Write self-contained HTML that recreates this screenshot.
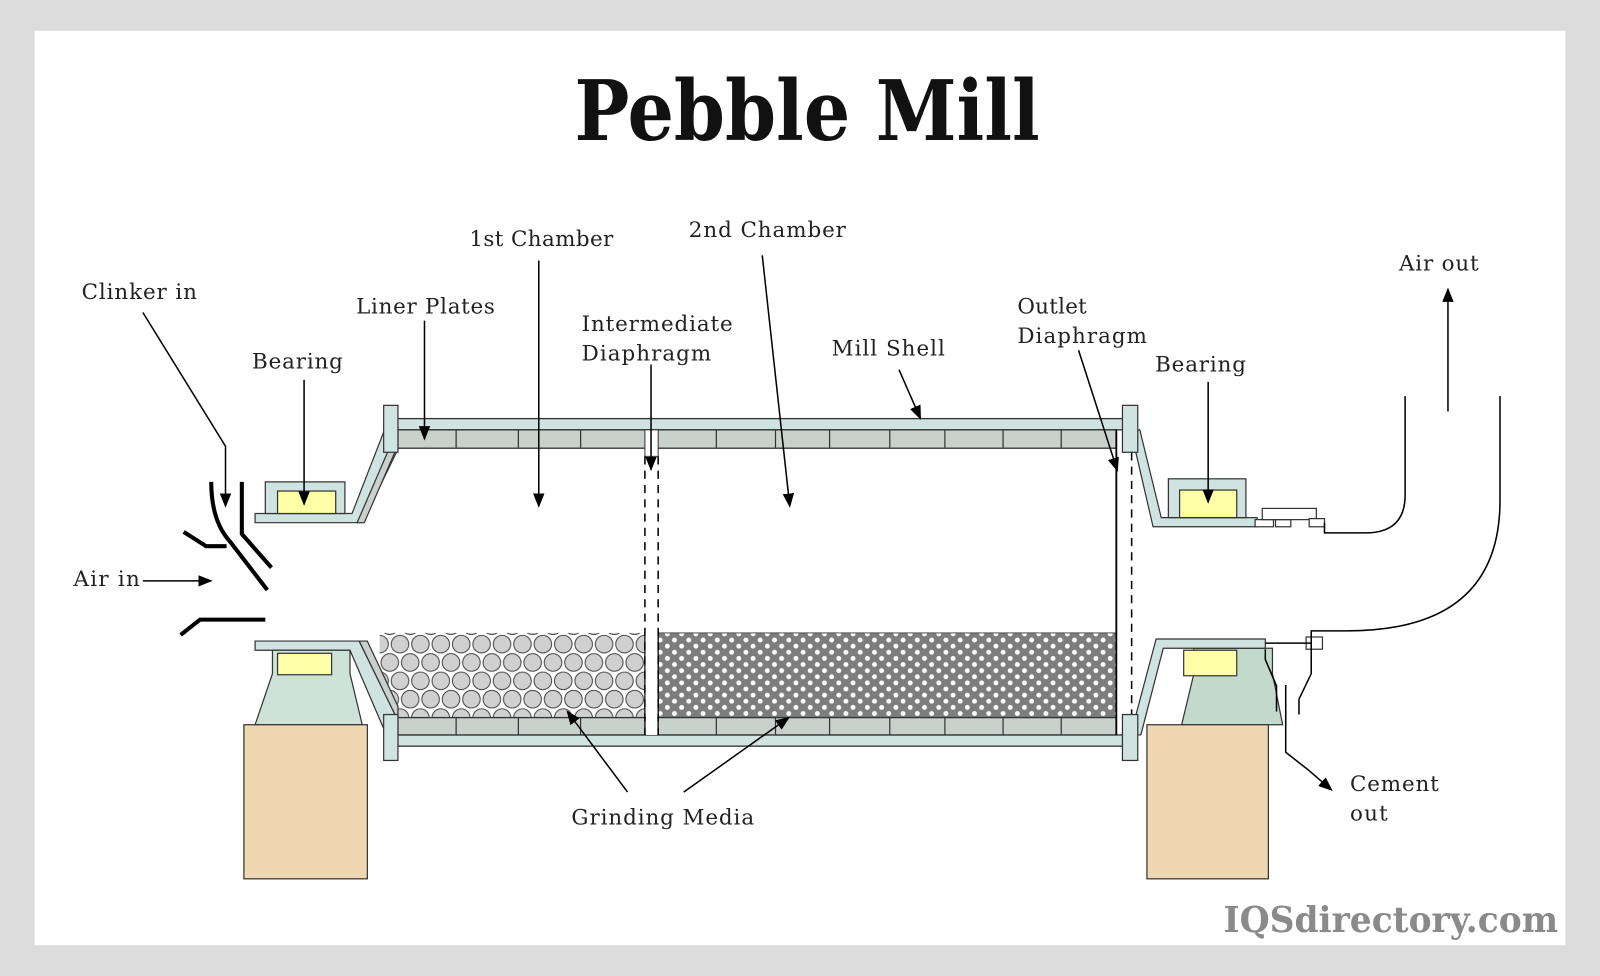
<!DOCTYPE html>
<html><head><meta charset="utf-8"><style>
html,body{margin:0;padding:0;background:#dcdcdc}
svg{display:block}
text{font-family:"DejaVu Serif","Liberation Serif",serif;font-size:21px;fill:#222}
</style></head><body>
<svg width="1600" height="976" viewBox="0 0 1568 956" xmlns="http://www.w3.org/2000/svg">
<defs>
<marker id="ah2" viewBox="0 0 10 10" refX="9" refY="5" markerWidth="14" markerHeight="14" orient="auto" markerUnits="userSpaceOnUse"><path d="M0,1 L10,5 L0,9 Z" fill="#000"/></marker>
<pattern id="dots" width="14" height="12" patternUnits="userSpaceOnUse"><rect width="14" height="12" fill="#7d7d7d"/><circle cx="3" cy="3" r="2.4" fill="#fff"/><circle cx="10" cy="9" r="2.4" fill="#fff"/></pattern>
<pattern id="balls" x="362" y="622" width="40" height="36" patternUnits="userSpaceOnUse"><rect width="40" height="36" fill="#fff"/>
<circle cx="10" cy="9" r="8.6" fill="#d0d0d0" stroke="#444"/><circle cx="30" cy="9" r="8.6" fill="#d0d0d0" stroke="#444"/>
<circle cx="20" cy="27" r="8.6" fill="#d0d0d0" stroke="#444"/><circle cx="0" cy="27" r="8.6" fill="#d0d0d0" stroke="#444"/><circle cx="40" cy="27" r="8.6" fill="#d0d0d0" stroke="#444"/></pattern>
</defs>
<rect x="0" y="0" width="1568" height="956" fill="#dcdcdc"/>
<rect x="34" y="30" width="1500" height="896" fill="#fff"/>
<text x="791" y="137" text-anchor="middle" style="font-size:82px;font-weight:bold;fill:#111" textLength="456" lengthAdjust="spacingAndGlyphs">Pebble Mill</text>

<rect x="372" y="620" width="260" height="83" fill="url(#balls)"/>
<rect x="645" y="620" width="449" height="83" fill="url(#dots)" stroke="#555"/>

<g stroke="#333" stroke-width="1.3">
<rect x="383" y="410" width="720" height="11" fill="#cfe3e0"/>
<rect x="383" y="421" width="711" height="18" fill="#c9d1cd"/>
<rect x="383" y="720" width="720" height="11" fill="#cfe3e0"/>
<rect x="383" y="703" width="711" height="17" fill="#c9d1cd"/>
</g>
<g stroke="#333" stroke-width="1.2">
<line x1="447" y1="421" x2="447" y2="439"/><line x1="508" y1="421" x2="508" y2="439"/><line x1="569" y1="421" x2="569" y2="439"/>
<line x1="702" y1="421" x2="702" y2="439"/><line x1="760" y1="421" x2="760" y2="439"/><line x1="813" y1="421" x2="813" y2="439"/><line x1="872" y1="421" x2="872" y2="439"/><line x1="926" y1="421" x2="926" y2="439"/><line x1="983" y1="421" x2="983" y2="439"/><line x1="1040" y1="421" x2="1040" y2="439"/>
<line x1="447" y1="703" x2="447" y2="720"/><line x1="508" y1="703" x2="508" y2="720"/><line x1="569" y1="703" x2="569" y2="720"/>
<line x1="702" y1="703" x2="702" y2="720"/><line x1="760" y1="703" x2="760" y2="720"/><line x1="813" y1="703" x2="813" y2="720"/><line x1="872" y1="703" x2="872" y2="720"/><line x1="926" y1="703" x2="926" y2="720"/><line x1="983" y1="703" x2="983" y2="720"/><line x1="1040" y1="703" x2="1040" y2="720"/>
</g>
<rect x="632" y="421" width="13" height="26" fill="#fff" stroke="#333"/>
<line x1="632" y1="447" x2="632" y2="720" stroke="#000" stroke-width="1.5" stroke-dasharray="8,6"/>
<line x1="645" y1="447" x2="645" y2="720" stroke="#000" stroke-width="1.5" stroke-dasharray="8,6"/>
<rect x="633" y="620" width="11" height="100" fill="#fff"/>
<line x1="632" y1="620" x2="632" y2="720" stroke="#000" stroke-width="1.2"/>
<line x1="645" y1="620" x2="645" y2="720" stroke="#000" stroke-width="1.2"/>
<line x1="1094" y1="421" x2="1094" y2="720" stroke="#000" stroke-width="1.8"/>
<line x1="1109" y1="443" x2="1109" y2="700" stroke="#000" stroke-width="1.5" stroke-dasharray="8,6"/>

<g stroke="#333" stroke-width="1.2">
<path d="M378,418 L345,503 L250,503 L250,512 L355,512 L390,440 L390,418 Z" fill="#cfe3e0"/>
<path d="M390,436 L357,512 L350,512 L388,424 Z" fill="#c9d1cd"/>
<rect x="260" y="472" width="78" height="31" fill="#cfe3e0"/>
<rect x="272" y="481" width="57" height="22" fill="#ffffa8"/>
<path d="M250,628 L352,628 L390,706 L390,730 L383,730 L343,637 L250,637 Z" fill="#cfe3e0"/>
<path d="M352,628 L360,628 L390,692 L390,706 Z" fill="#c9d1cd"/>
<path d="M267,637 L343,637 L343,660 L355,710 L250,710 L267,660 Z" fill="#cde3da"/>
<rect x="272" y="640" width="53" height="21" fill="#ffffa8"/>
<rect x="239" y="710" width="121" height="151" fill="#efd7b1"/>
<rect x="376" y="397" width="14" height="46" fill="#cfe3e0"/>
<rect x="376" y="700" width="14" height="45" fill="#cfe3e0"/>
</g>
<g stroke="#333" stroke-width="1.2">
<path d="M1108,421 L1117,421 L1138,507 L1232,507 L1232,516 L1130,516 Z" fill="#cfe3e0"/>
<rect x="1145" y="469" width="76" height="38" fill="#cfe3e0"/>
<rect x="1156" y="480" width="56" height="27" fill="#ffffa8"/>
<rect x="1250" y="509" width="15" height="7" fill="#fff"/><rect x="1230" y="509" width="18" height="7" fill="#fff"/>
<rect x="1237" y="498" width="53" height="11" fill="#fff"/>
<rect x="1283" y="508" width="15" height="8" fill="#fff"/>
<path d="M1170,635 L1247,635 L1247,660 L1257,710 L1158,710 L1170,660 Z" fill="#c2dacb"/>
<path d="M1133,626 L1240,626 L1240,635 L1140,635 L1118,720 L1108,720 Z" fill="#cfe3e0"/>
<rect x="1160" y="637" width="52" height="25" fill="#ffffa8"/>
<rect x="1124" y="710" width="119" height="151" fill="#efd7b1"/>
<rect x="1280" y="624" width="16" height="12" fill="#fff"/>
<rect x="1100" y="397" width="15" height="46" fill="#cfe3e0"/>
<rect x="1100" y="700" width="15" height="45" fill="#cfe3e0"/>
</g>
<g fill="none" stroke="#000" stroke-width="1.5">
<path d="M1377,388 L1377,485 Q1377,522 1338,522 L1298,522 L1298,512"/>
<path d="M1470,388 L1470,490 Q1470,618 1320,618 L1285,618 L1285,660 L1273,685 L1273,700"/>
<line x1="1240" y1="630" x2="1285" y2="630"/>
<path d="M1240,636 L1240,646 L1251,672 L1251,697"/>
<path d="M1260,671 L1260,737 L1283,755"/>
</g>
<g fill="none" stroke="#000" stroke-width="4">
<path d="M207,472 Q207,510 225,530 L262,578"/>
<path d="M237,472 L237,523 L266,556"/>
<path d="M180,521 L202,535 L222,535"/>
<path d="M177,622 L196,607 L260,607"/>
</g>

<g stroke="#000" stroke-width="1.5" fill="none" marker-end="url(#ah2)">
<path d="M140,306 L221,437 L221,496"/>
<line x1="140" y1="569" x2="207" y2="569"/>
<line x1="298" y1="372" x2="298" y2="494"/>
<line x1="416" y1="314" x2="416" y2="430"/>
<line x1="528" y1="255" x2="528" y2="496"/>
<line x1="638" y1="357" x2="638" y2="460"/>
<line x1="747" y1="250" x2="774" y2="496"/>
<line x1="881" y1="362" x2="902" y2="410"/>
<line x1="1057" y1="343" x2="1095" y2="461"/>
<line x1="1184" y1="374" x2="1184" y2="492"/>
<line x1="1419" y1="403" x2="1419" y2="283"/>
<line x1="615" y1="776" x2="556" y2="697"/>
<line x1="670" y1="776" x2="773" y2="703"/>
<line x1="1283" y1="755" x2="1305" y2="774"/>
</g>

<text x="80" y="293" textLength="113">Clinker in</text>
<text x="247" y="361" textLength="89">Bearing</text>
<text x="349" y="307" textLength="136">Liner Plates</text>
<text x="460" y="241" textLength="141">1st Chamber</text>
<text x="570" y="324" textLength="148">Intermediate</text>
<text x="570" y="353" textLength="127">Diaphragm</text>
<text x="675" y="232" textLength="154">2nd Chamber</text>
<text x="815" y="348" textLength="111">Mill Shell</text>
<text x="997" y="307" textLength="68">Outlet</text>
<text x="997" y="336" textLength="127">Diaphragm</text>
<text x="1132" y="364" textLength="89">Bearing</text>
<text x="1371" y="265" textLength="78">Air out</text>
<text x="72" y="574" textLength="65">Air in</text>
<text x="560" y="808" textLength="179">Grinding Media</text>
<text x="1323" y="775" textLength="87">Cement</text>
<text x="1323" y="804" textLength="37">out</text>
<text x="1527" y="913" text-anchor="end" style="font-size:35px;font-weight:bold;fill:#8a8a8a" textLength="328" lengthAdjust="spacingAndGlyphs">IQSdirectory.com</text>
</svg>
</body></html>
